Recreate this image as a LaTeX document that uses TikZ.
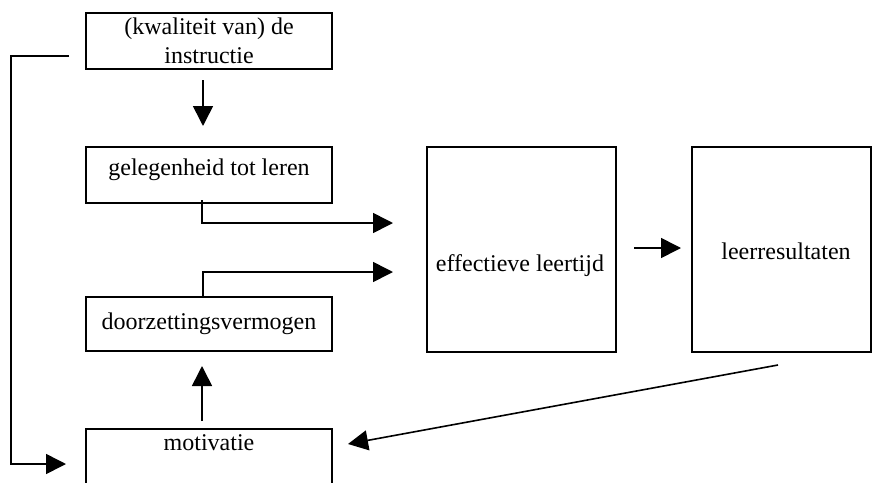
\documentclass[tikz,border=0pt]{standalone}
\usepackage{fontspec}
\setmainfont{Liberation Serif}
\usetikzlibrary{arrows.meta, positioning}

\begin{document}
\begin{tikzpicture}[x=1pt, y=-1pt,
    font=\fontsize{24}{29}\selectfont,
    box/.style={draw, line width=2pt, inner sep=0pt, align=center},
    arr/.style={line width=1.6pt, -{Triangle[length=20pt, width=20pt]}},
    lbl/.style={inner sep=0pt}]
    \clip (0,0) rectangle (872,482);
    % Left column of boxes
    \node[box, minimum width=246pt, minimum height=56pt] (instr) at (209,41) {(kwaliteit van) de\\instructie};
    \node[box, minimum width=246pt, minimum height=56pt] (geleg) at (209,175) {};
    \node[lbl, below=13pt of geleg.north] (gelegtxt) {gelegenheid tot leren};
    \node[box, minimum width=246pt, minimum height=54pt] (door) at (209,324) {doorzettingsvermogen};
    \node[box, minimum width=246pt, minimum height=80pt] (motiv) at (209,469) {};
    \node[lbl, below=6pt of motiv.north] (motivtxt) {motivatie};
    % Right column of boxes
    \node[box, minimum width=189pt, minimum height=205pt] (effect) at (521.5,249.5) {};
    \node[lbl] (effecttxt) at (520,266) {effectieve leertijd};
    \node[box, minimum width=179pt, minimum height=205pt] (leer) at (781.5,249.5) {};
    \node[lbl] (leertxt) at (786,251) {leerresultaten};
    % Connectors
    \draw[arr, shorten <=10pt, shorten >=20pt] ([xshift=-6pt]instr.south) -- ([xshift=-6pt]geleg.north);
    \draw[arr, shorten >=33pt] ([xshift=-7pt, yshift=4pt]geleg.south) |- ([yshift=26.5pt]effect.west);
    \draw[arr, shorten >=33pt] ([xshift=-6pt]door.north) |- ([yshift=-22.5pt]effect.west);
    \draw[arr, shorten <=17pt, shorten >=10pt] ([yshift=1.5pt]effect.east) -- ([yshift=1.5pt]leer.west);
    \draw[arr, shorten <=7pt, shorten >=14pt] ([xshift=-7pt]motiv.north) -- ([xshift=-7pt]door.south);
    \draw[arr] ([xshift=-3.5pt, yshift=-12pt]leer.south) -- ([xshift=15pt, yshift=-16pt]motiv.north east);
    % Feedback loop from instruction to motivation
    \draw[arr] ([xshift=-16pt, yshift=-15pt]instr.west) -- ++(-58,0) |- ([xshift=-19pt, yshift=5pt]motiv.west);
\end{tikzpicture}
\end{document}
